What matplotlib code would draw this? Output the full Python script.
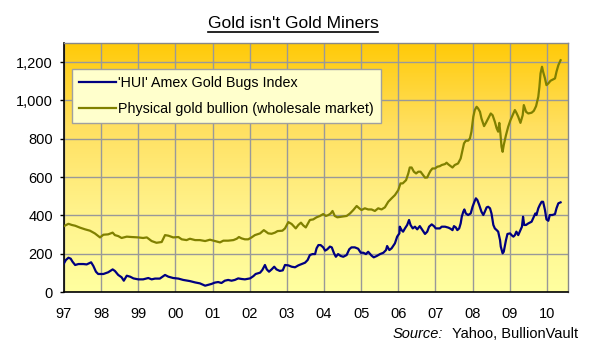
import matplotlib
matplotlib.use("Agg")
import matplotlib.pyplot as plt
from matplotlib.lines import Line2D
from matplotlib.colors import LinearSegmentedColormap
import numpy as np

plt.rcParams["font.family"] = ["Liberation Sans", "DejaVu Sans"]

# 'HUI' Amex Gold Bugs Index
hui_years = [
    1997.00, 1997.05, 1997.12, 1997.18, 1997.23, 1997.30, 1997.39, 1997.52, 1997.61, 1997.73,
    1997.79, 1997.86, 1997.92, 1998.06, 1998.19, 1998.31, 1998.37, 1998.46, 1998.55, 1998.61,
    1998.69, 1998.78, 1998.87, 1999.00, 1999.13, 1999.27, 1999.36, 1999.45, 1999.58, 1999.72,
    1999.81, 1999.94, 2000.08, 2000.21, 2000.39, 2000.53, 2000.66, 2000.80, 2000.89, 2000.97,
    2001.06, 2001.15, 2001.24, 2001.33, 2001.42, 2001.51, 2001.60, 2001.69, 2001.78, 2001.87,
    2002.01, 2002.10, 2002.16, 2002.28, 2002.34, 2002.41, 2002.46, 2002.52, 2002.59, 2002.66,
    2002.72, 2002.81, 2002.89, 2002.95, 2003.04, 2003.13, 2003.22, 2003.31, 2003.40, 2003.49,
    2003.56, 2003.62, 2003.69, 2003.76, 2003.80, 2003.85, 2003.91, 2003.98, 2004.03, 2004.09,
    2004.16, 2004.21, 2004.27, 2004.32, 2004.38, 2004.45, 2004.52, 2004.61, 2004.68, 2004.74,
    2004.83, 2004.92, 2004.99, 2005.06, 2005.13, 2005.19, 2005.28, 2005.34, 2005.42, 2005.51,
    2005.60, 2005.67, 2005.70, 2005.76, 2005.82, 2005.91, 2005.97, 2006.03, 2006.04, 2006.09,
    2006.13, 2006.18, 2006.24, 2006.29, 2006.33, 2006.39, 2006.45, 2006.51, 2006.58, 2006.65,
    2006.72, 2006.78, 2006.83, 2006.90, 2006.96, 2007.01, 2007.08, 2007.12, 2007.17, 2007.26,
    2007.35, 2007.41, 2007.46, 2007.50, 2007.55, 2007.59, 2007.64, 2007.68, 2007.71, 2007.75,
    2007.78, 2007.82, 2007.88, 2007.95, 2008.00, 2008.05, 2008.09, 2008.13, 2008.18, 2008.24,
    2008.29, 2008.33, 2008.38, 2008.42, 2008.47, 2008.51, 2008.56, 2008.60, 2008.65, 2008.69,
    2008.74, 2008.76, 2008.81, 2008.84, 2008.90, 2008.94, 2009.01, 2009.05, 2009.10, 2009.14,
    2009.18, 2009.23, 2009.27, 2009.33, 2009.36, 2009.39, 2009.44, 2009.50, 2009.59, 2009.65,
    2009.69, 2009.72, 2009.77, 2009.81, 2009.86, 2009.90, 2009.95, 2009.99, 2010.04, 2010.08,
    2010.15, 2010.22, 2010.26, 2010.31, 2010.37,
]
hui_values = [
    150, 167, 179, 174, 158, 141, 146, 146, 144, 155,
    136, 106, 94, 94, 103, 118, 110, 89, 77, 59,
    85, 80, 71, 66, 66, 73, 66, 70, 70, 89,
    80, 73, 70, 63, 57, 50, 45, 33, 38, 42,
    49, 52, 47, 59, 63, 59, 63, 71, 68, 66,
    71, 83, 94, 101, 115, 141, 118, 106, 118, 132,
    118, 110, 113, 141, 139, 132, 129, 139, 146, 153,
    167, 193, 198, 198, 228, 245, 245, 233, 216, 223,
    237, 233, 202, 184, 198, 188, 184, 193, 223, 233,
    233, 226, 205, 205, 198, 210, 190, 181, 188, 198,
    205, 219, 240, 219, 228, 254, 289, 306, 341, 323,
    315, 332, 350, 376, 350, 332, 341, 327, 344, 323,
    303, 315, 341, 353, 344, 332, 332, 332, 341, 341,
    336, 330, 323, 344, 337, 323, 332, 358, 393, 419,
    431, 410, 402, 410, 445, 471, 489, 480, 454, 419,
    402, 419, 442, 445, 437, 410, 350, 332, 323, 315,
    271, 237, 202, 210, 271, 303, 306, 297, 289, 297,
    315, 297, 315, 341, 393, 350, 350, 358, 367, 393,
    410, 402, 437, 454, 471, 471, 428, 379, 372, 402,
    402, 407, 437, 463, 468,
]

# Physical gold bullion, USD/oz
gold_years = [
    1997.00, 1997.12, 1997.21, 1997.30, 1997.43, 1997.57, 1997.70, 1997.83, 1997.97, 1998.06,
    1998.19, 1998.31, 1998.37, 1998.46, 1998.55, 1998.69, 1998.82, 1999.00, 1999.13, 1999.23,
    1999.36, 1999.49, 1999.63, 1999.72, 1999.81, 1999.94, 2000.08, 2000.17, 2000.30, 2000.39,
    2000.53, 2000.66, 2000.80, 2000.93, 2001.06, 2001.20, 2001.29, 2001.42, 2001.56, 2001.65,
    2001.71, 2001.78, 2001.87, 2001.96, 2002.05, 2002.14, 2002.28, 2002.38, 2002.50, 2002.59,
    2002.68, 2002.75, 2002.88, 2002.95, 2003.04, 2003.13, 2003.24, 2003.31, 2003.38, 2003.44,
    2003.51, 2003.62, 2003.71, 2003.80, 2003.89, 2003.98, 2004.05, 2004.12, 2004.18, 2004.23,
    2004.29, 2004.36, 2004.47, 2004.61, 2004.70, 2004.79, 2004.88, 2004.95, 2005.01, 2005.10,
    2005.19, 2005.28, 2005.37, 2005.46, 2005.55, 2005.64, 2005.73, 2005.82, 2005.91, 2006.00,
    2006.06, 2006.12, 2006.21, 2006.27, 2006.31, 2006.36, 2006.42, 2006.48, 2006.54, 2006.60,
    2006.67, 2006.72, 2006.78, 2006.83, 2006.87, 2006.92, 2006.99, 2007.05, 2007.12, 2007.17,
    2007.26, 2007.30, 2007.35, 2007.41, 2007.46, 2007.52, 2007.61, 2007.68, 2007.73, 2007.77,
    2007.82, 2007.88, 2007.93, 2007.97, 2008.02, 2008.06, 2008.11, 2008.15, 2008.20, 2008.24,
    2008.31, 2008.36, 2008.42, 2008.49, 2008.54, 2008.60, 2008.65, 2008.69, 2008.72, 2008.75,
    2008.78, 2008.81, 2008.84, 2008.90, 2008.96, 2009.02, 2009.10, 2009.14, 2009.18, 2009.23,
    2009.29, 2009.35, 2009.38, 2009.44, 2009.50, 2009.59, 2009.65, 2009.71, 2009.77, 2009.80,
    2009.83, 2009.87, 2009.90, 2009.95, 2009.99, 2010.04, 2010.10, 2010.17, 2010.22, 2010.26,
    2010.31, 2010.37,
]
gold_values = [
    344, 356, 350, 346, 336, 327, 320, 306, 285, 299,
    301, 310, 297, 292, 282, 289, 287, 285, 282, 285,
    266, 257, 261, 297, 294, 285, 287, 275, 271, 278,
    271, 271, 266, 273, 266, 259, 268, 268, 271, 278,
    287, 280, 275, 275, 285, 297, 306, 323, 306, 304,
    310, 318, 320, 332, 365, 355, 332, 350, 362, 348,
    337, 376, 379, 390, 397, 407, 397, 402, 410, 423,
    397, 390, 393, 397, 410, 428, 449, 437, 428, 437,
    431, 431, 423, 437, 431, 442, 471, 489, 506, 532,
    567, 567, 584, 619, 650, 650, 628, 619, 628, 628,
    610, 597, 598, 619, 633, 645, 645, 654, 657, 663,
    668, 675, 666, 657, 650, 663, 671, 697, 741, 776,
    790, 790, 802, 837, 915, 950, 967, 958, 941, 906,
    866, 883, 906, 932, 923, 889, 854, 837, 883, 828,
    758, 732, 767, 819, 863, 897, 932, 950, 936, 915,
    883, 923, 976, 941, 932, 936, 946, 970, 1019, 1071,
    1141, 1176, 1150, 1115, 1080, 1089, 1103, 1110, 1115, 1150,
    1184, 1210,
]

year_ticks = list(range(1997, 2011))
year_labels = [f"{y % 100:02d}" for y in year_ticks]
value_ticks = [0, 200, 400, 600, 800, 1000, 1200]

X_MIN, X_MAX = 1997.0, 2010.57
Y_MIN, Y_MAX = 0, 1300

W, H = 597, 348
fig = plt.figure(figsize=(W / 100, H / 100), dpi=100)
fig.patch.set_facecolor("white")
ax = fig.add_axes([64 / W, 1 - 292 / H, 504 / W, 249 / H])

# gold-to-pale-yellow gradient plot area
cmap = LinearSegmentedColormap.from_list(
    "bg", ["#FFFFA0", "#FFF28A", "#FFE060", "#FFCA08"]
)
grad = np.linspace(0, 1, 256).reshape(-1, 1)
ax.imshow(grad, cmap=cmap, origin="lower", aspect="auto",
          extent=[X_MIN, X_MAX, Y_MIN, Y_MAX], zorder=0)

ax.plot(hui_years, hui_values, color="#000080", lw=1.6,
        label="'HUI' Amex Gold Bugs Index", zorder=3, solid_joinstyle="round")
ax.plot(gold_years, gold_values, color="#808000", lw=1.6,
        label="Physical gold bullion (wholesale market)", zorder=3, solid_joinstyle="round")

ax.set_xlim(X_MIN, X_MAX)
ax.set_ylim(Y_MIN, Y_MAX)
ax.set_xticks(year_ticks)
ax.set_xticklabels(year_labels)
ax.set_yticks(value_ticks)
ax.set_yticklabels([f"{v:,}" for v in value_ticks])
ax.tick_params(axis="x", length=0, pad=11, labelsize=10.5)
ax.tick_params(axis="y", length=3, width=1, pad=5, labelsize=10.5, direction="out")
ax.grid(True, color="#999999", lw=1)
for gl in ax.get_xgridlines() + ax.get_ygridlines():
    gl.set_zorder(1)

for side in ("top", "right"):
    ax.spines[side].set_color("#888888")
    ax.spines[side].set_linewidth(1)
for side in ("left", "bottom"):
    ax.spines[side].set_color("black")
    ax.spines[side].set_linewidth(1.2)

leg = ax.legend(loc="upper left", bbox_to_anchor=((72 - 64) / 504, (292 - 69) / 249),
                borderaxespad=0, frameon=True, fancybox=False, fontsize=10.3,
                handlelength=2.6, handletextpad=0.1, labelspacing=0.85,
                borderpad=0.5)
frame = leg.get_frame()
frame.set_facecolor("#FFFFCC")
frame.set_edgecolor("#A0A0A0")
frame.set_linewidth(1)
frame.set_alpha(1)
leg.set_zorder(5)

# underlined title
title = fig.text(293 / W, 1 - 23 / H, "Gold isn't Gold Miners", ha="center",
                 va="center", fontsize=12.5)
fig.canvas.draw()
bb = title.get_window_extent(fig.canvas.get_renderer())
uy = bb.y0 - 1.5
fig.add_artist(Line2D([bb.x0 / W, bb.x1 / W], [uy / H, uy / H], color="black", lw=1.2))

fig.text(443 / W, 1 - 334 / H, "Source:", ha="right", va="center",
         fontsize=10.5, style="italic")
fig.text(452 / W, 1 - 334 / H, "Yahoo, BullionVault", ha="left", va="center",
         fontsize=10.5)

fig.savefig("out.png", dpi=100)
